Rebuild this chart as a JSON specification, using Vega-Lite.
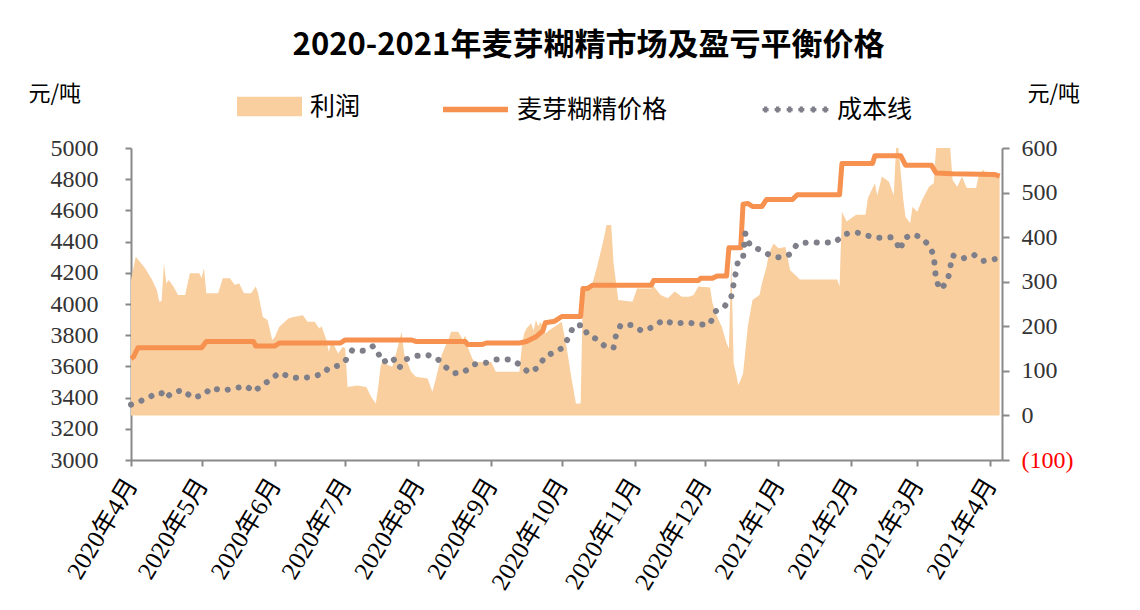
{
  "$schema": "https://vega.github.io/schema/vega-lite/v6.json",
  "width": 871,
  "height": 312,
  "autosize": {"type": "none"},
  "padding": {"left": 131, "top": 148, "right": 138, "bottom": 150},
  "background": "white",
  "title": {"text": "2020-2021年麦芽糊精市场及盈亏平衡价格", "font": "Noto Sans CJK SC", "fontSize": 31, "fontWeight": "bold", "color": "#000000", "anchor": "middle", "dx": 22, "dy": 0, "offset": 12},
  "datasets": {
    "profit": [
      {"date": "2020-04-01", "v": 304}, {"date": "2020-04-03", "v": 356}, {"date": "2020-04-04", "v": 350}, {"date": "2020-04-07", "v": 330},
      {"date": "2020-04-10", "v": 304}, {"date": "2020-04-12", "v": 281}, {"date": "2020-04-13", "v": 255}, {"date": "2020-04-14", "v": 257},
      {"date": "2020-04-15", "v": 341}, {"date": "2020-04-16", "v": 296}, {"date": "2020-04-17", "v": 304}, {"date": "2020-04-19", "v": 289},
      {"date": "2020-04-21", "v": 270}, {"date": "2020-04-24", "v": 270}, {"date": "2020-04-26", "v": 319}, {"date": "2020-04-30", "v": 319},
      {"date": "2020-05-01", "v": 308}, {"date": "2020-05-02", "v": 331}, {"date": "2020-05-03", "v": 274}, {"date": "2020-05-08", "v": 274},
      {"date": "2020-05-10", "v": 308}, {"date": "2020-05-13", "v": 308}, {"date": "2020-05-15", "v": 293}, {"date": "2020-05-17", "v": 296},
      {"date": "2020-05-19", "v": 274}, {"date": "2020-05-22", "v": 274}, {"date": "2020-05-24", "v": 289}, {"date": "2020-05-25", "v": 274},
      {"date": "2020-05-27", "v": 221}, {"date": "2020-05-29", "v": 214}, {"date": "2020-05-31", "v": 169}, {"date": "2020-06-01", "v": 175},
      {"date": "2020-06-03", "v": 199}, {"date": "2020-06-07", "v": 218}, {"date": "2020-06-09", "v": 221}, {"date": "2020-06-13", "v": 225},
      {"date": "2020-06-15", "v": 210}, {"date": "2020-06-18", "v": 210}, {"date": "2020-06-20", "v": 195}, {"date": "2020-06-21", "v": 200},
      {"date": "2020-06-23", "v": 169}, {"date": "2020-06-24", "v": 143}, {"date": "2020-06-25", "v": 165}, {"date": "2020-06-26", "v": 160},
      {"date": "2020-06-28", "v": 139}, {"date": "2020-06-30", "v": 154}, {"date": "2020-07-01", "v": 150}, {"date": "2020-07-02", "v": 64},
      {"date": "2020-07-06", "v": 67}, {"date": "2020-07-10", "v": 64}, {"date": "2020-07-12", "v": 42}, {"date": "2020-07-14", "v": 27},
      {"date": "2020-07-15", "v": 64}, {"date": "2020-07-16", "v": 109}, {"date": "2020-07-17", "v": 126}, {"date": "2020-07-19", "v": 113},
      {"date": "2020-07-21", "v": 109}, {"date": "2020-07-23", "v": 147}, {"date": "2020-07-25", "v": 188}, {"date": "2020-07-26", "v": 139},
      {"date": "2020-07-27", "v": 124}, {"date": "2020-07-29", "v": 98}, {"date": "2020-07-31", "v": 87}, {"date": "2020-08-05", "v": 83},
      {"date": "2020-08-07", "v": 53}, {"date": "2020-08-08", "v": 72}, {"date": "2020-08-11", "v": 136}, {"date": "2020-08-14", "v": 173},
      {"date": "2020-08-15", "v": 188}, {"date": "2020-08-18", "v": 188}, {"date": "2020-08-20", "v": 169}, {"date": "2020-08-21", "v": 180},
      {"date": "2020-08-22", "v": 154}, {"date": "2020-08-24", "v": 128}, {"date": "2020-08-25", "v": 120}, {"date": "2020-09-01", "v": 120},
      {"date": "2020-09-03", "v": 98}, {"date": "2020-09-13", "v": 98}, {"date": "2020-09-14", "v": 154}, {"date": "2020-09-15", "v": 184},
      {"date": "2020-09-16", "v": 195}, {"date": "2020-09-18", "v": 207}, {"date": "2020-09-19", "v": 190}, {"date": "2020-09-20", "v": 214},
      {"date": "2020-09-21", "v": 200}, {"date": "2020-09-22", "v": 210}, {"date": "2020-09-24", "v": 184}, {"date": "2020-09-26", "v": 192},
      {"date": "2020-09-29", "v": 203}, {"date": "2020-10-01", "v": 210}, {"date": "2020-10-03", "v": 154}, {"date": "2020-10-05", "v": 87},
      {"date": "2020-10-07", "v": 27}, {"date": "2020-10-09", "v": 27}, {"date": "2020-10-10", "v": 281}, {"date": "2020-10-14", "v": 296},
      {"date": "2020-10-16", "v": 334}, {"date": "2020-10-18", "v": 378}, {"date": "2020-10-19", "v": 401}, {"date": "2020-10-20", "v": 427},
      {"date": "2020-10-22", "v": 427}, {"date": "2020-10-23", "v": 341}, {"date": "2020-10-25", "v": 259}, {"date": "2020-10-31", "v": 255},
      {"date": "2020-11-02", "v": 285}, {"date": "2020-11-08", "v": 285}, {"date": "2020-11-09", "v": 290}, {"date": "2020-11-12", "v": 270},
      {"date": "2020-11-15", "v": 263}, {"date": "2020-11-18", "v": 278}, {"date": "2020-11-21", "v": 266}, {"date": "2020-11-24", "v": 266},
      {"date": "2020-11-26", "v": 270}, {"date": "2020-11-28", "v": 289}, {"date": "2020-12-03", "v": 287}, {"date": "2020-12-04", "v": 252},
      {"date": "2020-12-06", "v": 221}, {"date": "2020-12-08", "v": 199}, {"date": "2020-12-10", "v": 162}, {"date": "2020-12-11", "v": 150},
      {"date": "2020-12-12", "v": 350}, {"date": "2020-12-13", "v": 117}, {"date": "2020-12-14", "v": 94}, {"date": "2020-12-15", "v": 68},
      {"date": "2020-12-16", "v": 80}, {"date": "2020-12-17", "v": 94}, {"date": "2020-12-19", "v": 199}, {"date": "2020-12-21", "v": 259},
      {"date": "2020-12-24", "v": 270}, {"date": "2020-12-25", "v": 296}, {"date": "2020-12-27", "v": 334}, {"date": "2020-12-28", "v": 364},
      {"date": "2020-12-30", "v": 386}, {"date": "2021-01-01", "v": 375}, {"date": "2021-01-04", "v": 378}, {"date": "2021-01-06", "v": 326},
      {"date": "2021-01-09", "v": 311}, {"date": "2021-01-10", "v": 305}, {"date": "2021-01-26", "v": 305}, {"date": "2021-01-27", "v": 289},
      {"date": "2021-01-28", "v": 457}, {"date": "2021-01-30", "v": 435}, {"date": "2021-02-03", "v": 450}, {"date": "2021-02-07", "v": 450},
      {"date": "2021-02-08", "v": 487}, {"date": "2021-02-11", "v": 521}, {"date": "2021-02-12", "v": 494}, {"date": "2021-02-14", "v": 536},
      {"date": "2021-02-17", "v": 524}, {"date": "2021-02-19", "v": 494}, {"date": "2021-02-20", "v": 600}, {"date": "2021-02-21", "v": 600},
      {"date": "2021-02-23", "v": 487}, {"date": "2021-02-24", "v": 446}, {"date": "2021-02-26", "v": 431}, {"date": "2021-02-27", "v": 468},
      {"date": "2021-03-01", "v": 457}, {"date": "2021-03-03", "v": 483}, {"date": "2021-03-06", "v": 513}, {"date": "2021-03-08", "v": 521},
      {"date": "2021-03-09", "v": 600}, {"date": "2021-03-15", "v": 600}, {"date": "2021-03-16", "v": 528}, {"date": "2021-03-18", "v": 513},
      {"date": "2021-03-20", "v": 536}, {"date": "2021-03-22", "v": 510}, {"date": "2021-03-26", "v": 510}, {"date": "2021-03-27", "v": 536},
      {"date": "2021-03-29", "v": 551}, {"date": "2021-03-31", "v": 536}, {"date": "2021-04-05", "v": 539}
    ],
    "price": [
      {"date": "2020-04-01", "v": 3650}, {"date": "2020-04-02", "v": 3660}, {"date": "2020-04-04", "v": 3720}, {"date": "2020-05-01", "v": 3720},
      {"date": "2020-05-03", "v": 3760}, {"date": "2020-05-23", "v": 3760}, {"date": "2020-05-24", "v": 3730}, {"date": "2020-06-01", "v": 3730},
      {"date": "2020-06-03", "v": 3750}, {"date": "2020-06-29", "v": 3750}, {"date": "2020-07-01", "v": 3770}, {"date": "2020-07-29", "v": 3770},
      {"date": "2020-07-31", "v": 3760}, {"date": "2020-08-21", "v": 3760}, {"date": "2020-08-22", "v": 3740}, {"date": "2020-08-28", "v": 3740},
      {"date": "2020-08-30", "v": 3750}, {"date": "2020-09-13", "v": 3750}, {"date": "2020-09-16", "v": 3760}, {"date": "2020-09-20", "v": 3790},
      {"date": "2020-09-23", "v": 3830}, {"date": "2020-09-24", "v": 3880}, {"date": "2020-09-28", "v": 3890}, {"date": "2020-10-01", "v": 3920},
      {"date": "2020-10-09", "v": 3920}, {"date": "2020-10-10", "v": 4100}, {"date": "2020-10-12", "v": 4100}, {"date": "2020-10-14", "v": 4120},
      {"date": "2020-11-08", "v": 4120}, {"date": "2020-11-09", "v": 4150}, {"date": "2020-11-28", "v": 4150}, {"date": "2020-11-29", "v": 4165},
      {"date": "2020-12-04", "v": 4165}, {"date": "2020-12-06", "v": 4180}, {"date": "2020-12-10", "v": 4180}, {"date": "2020-12-11", "v": 4360},
      {"date": "2020-12-16", "v": 4360}, {"date": "2020-12-17", "v": 4640}, {"date": "2020-12-19", "v": 4645}, {"date": "2020-12-21", "v": 4625},
      {"date": "2020-12-25", "v": 4625}, {"date": "2020-12-27", "v": 4670}, {"date": "2021-01-07", "v": 4670}, {"date": "2021-01-09", "v": 4700},
      {"date": "2021-01-27", "v": 4700}, {"date": "2021-01-28", "v": 4900}, {"date": "2021-02-10", "v": 4900}, {"date": "2021-02-11", "v": 4950},
      {"date": "2021-02-22", "v": 4950}, {"date": "2021-02-24", "v": 4890}, {"date": "2021-03-07", "v": 4890}, {"date": "2021-03-09", "v": 4840},
      {"date": "2021-03-16", "v": 4835}, {"date": "2021-04-03", "v": 4830}, {"date": "2021-04-05", "v": 4820}
    ],
    "cost": [
      {"date": "2020-04-01", "v": 3355}, {"date": "2020-04-08", "v": 3395}, {"date": "2020-04-12", "v": 3431}, {"date": "2020-04-14", "v": 3428},
      {"date": "2020-04-16", "v": 3395}, {"date": "2020-04-18", "v": 3428}, {"date": "2020-04-23", "v": 3449}, {"date": "2020-04-27", "v": 3399},
      {"date": "2020-05-02", "v": 3417}, {"date": "2020-05-05", "v": 3463}, {"date": "2020-05-10", "v": 3444}, {"date": "2020-05-15", "v": 3460},
      {"date": "2020-05-20", "v": 3474}, {"date": "2020-05-23", "v": 3438}, {"date": "2020-05-27", "v": 3481}, {"date": "2020-05-31", "v": 3524},
      {"date": "2020-06-03", "v": 3560}, {"date": "2020-06-08", "v": 3530}, {"date": "2020-06-13", "v": 3524}, {"date": "2020-06-18", "v": 3538},
      {"date": "2020-06-22", "v": 3556}, {"date": "2020-06-24", "v": 3592}, {"date": "2020-06-28", "v": 3604}, {"date": "2020-07-01", "v": 3635},
      {"date": "2020-07-04", "v": 3705}, {"date": "2020-07-09", "v": 3699}, {"date": "2020-07-13", "v": 3731}, {"date": "2020-07-15", "v": 3684},
      {"date": "2020-07-17", "v": 3626}, {"date": "2020-07-21", "v": 3658}, {"date": "2020-07-24", "v": 3590}, {"date": "2020-07-26", "v": 3641},
      {"date": "2020-07-31", "v": 3667}, {"date": "2020-08-05", "v": 3673}, {"date": "2020-08-09", "v": 3652}, {"date": "2020-08-12", "v": 3603},
      {"date": "2020-08-16", "v": 3556}, {"date": "2020-08-20", "v": 3560}, {"date": "2020-08-25", "v": 3613}, {"date": "2020-08-30", "v": 3624},
      {"date": "2020-09-03", "v": 3645}, {"date": "2020-09-09", "v": 3645}, {"date": "2020-09-13", "v": 3613}, {"date": "2020-09-17", "v": 3560},
      {"date": "2020-09-21", "v": 3594}, {"date": "2020-09-24", "v": 3667}, {"date": "2020-09-27", "v": 3684}, {"date": "2020-10-01", "v": 3716},
      {"date": "2020-10-04", "v": 3787}, {"date": "2020-10-06", "v": 3861}, {"date": "2020-10-10", "v": 3865}, {"date": "2020-10-12", "v": 3801},
      {"date": "2020-10-16", "v": 3774}, {"date": "2020-10-20", "v": 3720}, {"date": "2020-10-23", "v": 3720}, {"date": "2020-10-24", "v": 3797},
      {"date": "2020-10-26", "v": 3865}, {"date": "2020-10-31", "v": 3865}, {"date": "2020-11-04", "v": 3827}, {"date": "2020-11-09", "v": 3854},
      {"date": "2020-11-13", "v": 3897}, {"date": "2020-11-18", "v": 3872}, {"date": "2020-11-23", "v": 3885}, {"date": "2020-11-28", "v": 3867},
      {"date": "2020-12-03", "v": 3872}, {"date": "2020-12-05", "v": 3951}, {"date": "2020-12-09", "v": 3981}, {"date": "2020-12-12", "v": 4047},
      {"date": "2020-12-13", "v": 4128}, {"date": "2020-12-14", "v": 4207}, {"date": "2020-12-15", "v": 4286}, {"date": "2020-12-17", "v": 4297},
      {"date": "2020-12-18", "v": 4453}, {"date": "2020-12-20", "v": 4374}, {"date": "2020-12-25", "v": 4342}, {"date": "2020-12-29", "v": 4308},
      {"date": "2021-01-01", "v": 4299}, {"date": "2021-01-03", "v": 4299}, {"date": "2021-01-06", "v": 4320}, {"date": "2021-01-09", "v": 4385},
      {"date": "2021-01-14", "v": 4395}, {"date": "2021-01-20", "v": 4395}, {"date": "2021-01-25", "v": 4395}, {"date": "2021-01-29", "v": 4447},
      {"date": "2021-02-03", "v": 4460}, {"date": "2021-02-07", "v": 4442}, {"date": "2021-02-11", "v": 4425}, {"date": "2021-02-14", "v": 4425},
      {"date": "2021-02-18", "v": 4428}, {"date": "2021-02-20", "v": 4395}, {"date": "2021-02-22", "v": 4344}, {"date": "2021-02-23", "v": 4417},
      {"date": "2021-02-27", "v": 4447}, {"date": "2021-03-02", "v": 4431}, {"date": "2021-03-06", "v": 4378}, {"date": "2021-03-08", "v": 4312},
      {"date": "2021-03-09", "v": 4150}, {"date": "2021-03-11", "v": 4092}, {"date": "2021-03-14", "v": 4154}, {"date": "2021-03-15", "v": 4235},
      {"date": "2021-03-16", "v": 4312}, {"date": "2021-03-20", "v": 4290}, {"date": "2021-03-25", "v": 4316}, {"date": "2021-03-29", "v": 4276},
      {"date": "2021-04-03", "v": 4288}, {"date": "2021-04-05", "v": 4290}
    ]
  },
  "encoding": {
    "x": {
      "field": "date", "type": "temporal",
      "scale": {"type": "utc", "domain": [{"year": 2020, "month": 4, "date": 1, "utc": true}, {"year": 2021, "month": 4, "date": 6, "utc": true}], "nice": false},
      "axis": {
        "title": null,
        "labelExpr": "utcFormat(datum.value, '%Y年%-m月')",
        "tickCount": {"interval": "month", "step": 1},
        "labelAngle": -59, "labelAlign": "right", "labelBaseline": "middle", "labelPadding": 14,
        "labelFont": "Liberation Serif, Noto Sans CJK SC", "labelFontSize": 25, "labelColor": "#000000",
        "labelOverlap": false, "labelFlush": false, "labelBound": false,
        "tickSize": 6, "grid": false
      }
    }
  },
  "layer": [
    {
      "data": {"name": "profit"},
      "mark": {"type": "area", "opacity": 1},
      "encoding": {
        "y": {
          "field": "v", "type": "quantitative",
          "scale": {"domain": [-100, 600], "nice": false, "zero": false},
          "axis": {
            "orient": "right", "values": [-100, 0, 100, 200, 300, 400, 500, 600], "grid": false,
            "labelExpr": "datum.value < 0 ? '(' + format(-datum.value, 'd') + ')' : format(datum.value, 'd')",
            "labelColor": {"condition": {"test": "datum.value < 0", "value": "#ff0000"}, "value": "#333333"},
            "labelFont": "Liberation Serif", "labelFontSize": 24, "labelPadding": 12, "tickSize": 7,
            "title": "元/吨", "titleAngle": 0, "titleX": 25, "titleY": -55, "titleAlign": "left", "titleBaseline": "middle",
            "titleFont": "Noto Sans CJK SC", "titleFontSize": 22, "titleFontWeight": "normal", "titleColor": "#000000"
          }
        },
        "y2": {"datum": 0},
        "color": {
          "datum": "利润", "type": "nominal",
          "scale": {"domain": ["利润", "麦芽糊精价格", "成本线"], "range": ["#f9cfa0", "#f79150", "#7f7f89"]},
          "legend": {
            "orient": "none", "legendX": 106, "legendY": -74, "direction": "horizontal", "title": null,
            "values": ["利润"],
            "labelFont": "Noto Sans CJK SC", "labelFontSize": 25, "labelColor": "#000000", "labelLimit": 400,
            "symbolType": "M-1,-0.3H1V0.3H-1Z", "symbolSize": 4225, "labelOffset": 8,
            "symbolStrokeWidth": 0, "symbolOpacity": 1
          }
        }
      }
    },
    {
      "data": {"name": "price"},
      "mark": {"type": "line", "strokeWidth": 5, "strokeJoin": "round"},
      "encoding": {
        "y": {
          "field": "v", "type": "quantitative",
          "scale": {"domain": [3000, 5000], "nice": false, "zero": false},
          "axis": {
            "orient": "left", "values": [3000, 3200, 3400, 3600, 3800, 4000, 4200, 4400, 4600, 4800, 5000], "grid": false,
            "format": "d",
            "labelFont": "Liberation Serif", "labelFontSize": 24, "labelColor": "#333333", "labelPadding": 27, "tickSize": 6,
            "title": "元/吨", "titleAngle": 0, "titleX": -103, "titleY": -55, "titleAlign": "left", "titleBaseline": "middle",
            "titleFont": "Noto Sans CJK SC", "titleFontSize": 22, "titleFontWeight": "normal", "titleColor": "#000000"
          }
        },
        "color": {
          "datum": "麦芽糊精价格", "type": "nominal",
          "legend": {
            "orient": "none", "legendX": 309, "legendY": -74, "direction": "horizontal", "title": null,
            "values": ["麦芽糊精价格"],
            "labelFont": "Noto Sans CJK SC", "labelFontSize": 25, "labelColor": "#000000", "labelLimit": 400,
            "symbolType": "stroke", "symbolSize": 4225, "labelOffset": 6,
            "symbolStrokeWidth": 5.5, "symbolOpacity": 1
          }
        }
      }
    },
    {
      "data": {"name": "cost"},
      "mark": {"type": "line", "strokeWidth": 6, "strokeDash": [0.1, 11], "strokeCap": "round"},
      "encoding": {
        "y": {
          "field": "v", "type": "quantitative",
          "scale": {"domain": [3000, 5000], "nice": false, "zero": false},
          "axis": null
        },
        "color": {
          "datum": "成本线", "type": "nominal",
          "legend": {
            "orient": "none", "legendX": 629, "legendY": -74, "direction": "horizontal", "title": null,
            "values": ["成本线"],
            "labelFont": "Noto Sans CJK SC", "labelFontSize": 25, "labelColor": "#000000", "labelLimit": 400,
            "symbolType": "M-0.97,0h0.1M-0.92,-0.05v0.1M-0.6,0h0.1M-0.55,-0.05v0.1M-0.23,0h0.1M-0.18,-0.05v0.1M0.13,0h0.1M0.18,-0.05v0.1M0.5,0h0.1M0.55,-0.05v0.1M0.87,0h0.1M0.92,-0.05v0.1",
            "symbolSize": 4225, "labelOffset": 6,
            "symbolStrokeWidth": 6, "symbolDash": [1, 0], "symbolOpacity": 1
          }
        }
      }
    }
  ],
  "resolve": {"scale": {"y": "independent", "color": "shared"}, "legend": {"color": "independent"}},
  "config": {
    "view": {"stroke": null},
    "axis": {"domainColor": "#898989", "domainWidth": 2, "tickColor": "#898989", "tickWidth": 2, "grid": false}
  }
}
